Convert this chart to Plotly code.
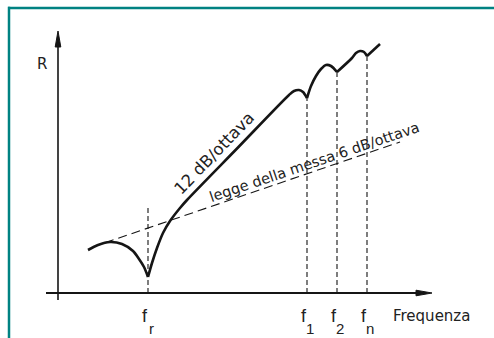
import plotly.graph_objects as go

# Transmission-loss sketch: R versus frequency (arbitrary units, 1 unit = 10 px)
# Resonance and coincidence frequencies along the frequency axis
f_r, f_1, f_2, f_n = 9.0, 24.9, 27.9, 30.9
freq_labels = ["r", "1", "2", "n"]

# Curve pieces between the cusps (frequency, R)
seg_low_x = [3.0, 4.0, 5.2, 6.4, 7.5, 8.1, 8.6, 9.0]
seg_low_y = [4.3, 4.8, 5.1, 4.9, 4.2, 3.4, 2.6, 1.6]

seg_rise_x = [9.0, 9.4, 9.9, 10.5, 11.2, 12.2, 12.9, 18.0, 23.1, 23.6, 24.1, 24.5, 24.9]
seg_rise_y = [1.6, 3.0, 4.5, 6.0, 7.2, 8.5, 9.3, 14.55, 19.8, 20.2, 20.3, 20.1, 19.5]

seg_c1_x = [24.9, 25.3, 25.8, 26.3, 26.8, 27.3, 27.9]
seg_c1_y = [19.5, 20.7, 21.7, 22.4, 22.8, 22.7, 22.1]

seg_c2_x = [27.9, 29.4, 29.8, 30.2, 30.6, 30.9]
seg_c2_y = [22.1, 23.5, 24.0, 24.2, 24.1, 23.7]

seg_end_x = [30.9, 32.2]
seg_end_y = [23.7, 24.9]

# Mass law (6 dB per octave) reference line
mass_x = [4.7, 34.2]
mass_y = [5.03, 15.1]

# Top of each vertical marker line
marker_x = [f_r, f_1, f_2, f_n]
marker_top = [8.5, 19.5, 22.1, 23.7]

# Axes extent
x_axis = [-1.2, 37.4]
y_axis = [-0.7, 26.2]

INK = "#151515"
TEAL = "#008282"
FONT = "DejaVu Sans, Verdana, sans-serif"
FONT_F = "Liberation Sans, Arial, sans-serif"

fig = go.Figure()

# Main curve
for xs, ys in [(seg_low_x, seg_low_y), (seg_rise_x, seg_rise_y),
               (seg_c1_x, seg_c1_y), (seg_c2_x, seg_c2_y), (seg_end_x, seg_end_y)]:
    fig.add_trace(go.Scatter(x=xs, y=ys, mode="lines",
                             line=dict(color=INK, width=2.6, shape="spline", smoothing=0.8),
                             hoverinfo="skip", showlegend=False))

# Mass law line
fig.add_trace(go.Scatter(x=mass_x, y=mass_y, mode="lines",
                         line=dict(color=INK, width=1.1, dash="9px,5px"),
                         hoverinfo="skip", showlegend=False))

# Vertical dashed markers
for fx, top in zip(marker_x, marker_top):
    fig.add_trace(go.Scatter(x=[fx, fx], y=[0, top], mode="lines",
                             line=dict(color=INK, width=1.1, dash="5px,3px"),
                             hoverinfo="skip", showlegend=False))

# Axis lines
fig.add_trace(go.Scatter(x=[x_axis[0], x_axis[1] - 1.0], y=[0, 0], mode="lines",
                         line=dict(color=INK, width=2.2), hoverinfo="skip", showlegend=False))
fig.add_trace(go.Scatter(x=[0, 0], y=[y_axis[0], y_axis[1] - 1.0], mode="lines",
                         line=dict(color=INK, width=1.6), hoverinfo="skip", showlegend=False))

# Arrowheads (narrow filled triangles)
head_len, head_half = 1.6, 0.28
fig.add_trace(go.Scatter(
    x=[x_axis[1], x_axis[1] - head_len, x_axis[1] - head_len, x_axis[1]],
    y=[0, head_half, -head_half, 0], mode="lines", fill="toself",
    fillcolor=INK, line=dict(color=INK, width=1), hoverinfo="skip", showlegend=False))
fig.add_trace(go.Scatter(
    x=[0, head_half, -head_half, 0],
    y=[y_axis[1], y_axis[1] - head_len, y_axis[1] - head_len, y_axis[1]], mode="lines",
    fill="toself", fillcolor=INK, line=dict(color=INK, width=1),
    hoverinfo="skip", showlegend=False))

annotations = [
    dict(x=-1.6, y=22.9, text="R", font=dict(size=15, family=FONT)),
    dict(x=37.3, y=-2.3, text="Frequenza", font=dict(size=15, family=FONT)),
    dict(x=15.6, y=13.95, text="12 dB/ottava", textangle=-46, font=dict(size=16.5, family=FONT)),
    dict(x=25.65, y=13.1, text="legge della messa 6 dB/ottava", textangle=-18.7,
         font=dict(size=14.5, family=FONT)),
]
for fx, sub in zip(marker_x, freq_labels):
    annotations.append(dict(x=fx - 0.35, y=-2.3, text="f", font=dict(size=18, family=FONT_F)))
    annotations.append(dict(x=fx + 0.3, y=-3.5, text=sub, font=dict(size=15, family=FONT_F)))

for a in annotations:
    a.update(xref="x", yref="y", showarrow=False, xanchor="center", yanchor="middle")
    a["font"].update(color="#222222")

fig.update_layout(
    width=494, height=338,
    margin=dict(l=0, r=0, t=0, b=0),
    paper_bgcolor="white", plot_bgcolor="white",
    xaxis=dict(range=[-5.8, 43.6], visible=False, fixedrange=True),
    yaxis=dict(range=[-4.5, 29.3], visible=False, fixedrange=True),
    annotations=annotations,
    shapes=[
        dict(type="line", xref="paper", yref="paper", x0=8.0 / 494, x1=1,
             y0=1 - 8.0 / 338, y1=1 - 8.0 / 338, line=dict(color=TEAL, width=2.5)),
        dict(type="line", xref="paper", yref="paper", x0=9.0 / 494, x1=9.0 / 494,
             y0=0, y1=1 - 6.8 / 338, line=dict(color=TEAL, width=2.5)),
    ],
)

fig.write_html("out.html")
